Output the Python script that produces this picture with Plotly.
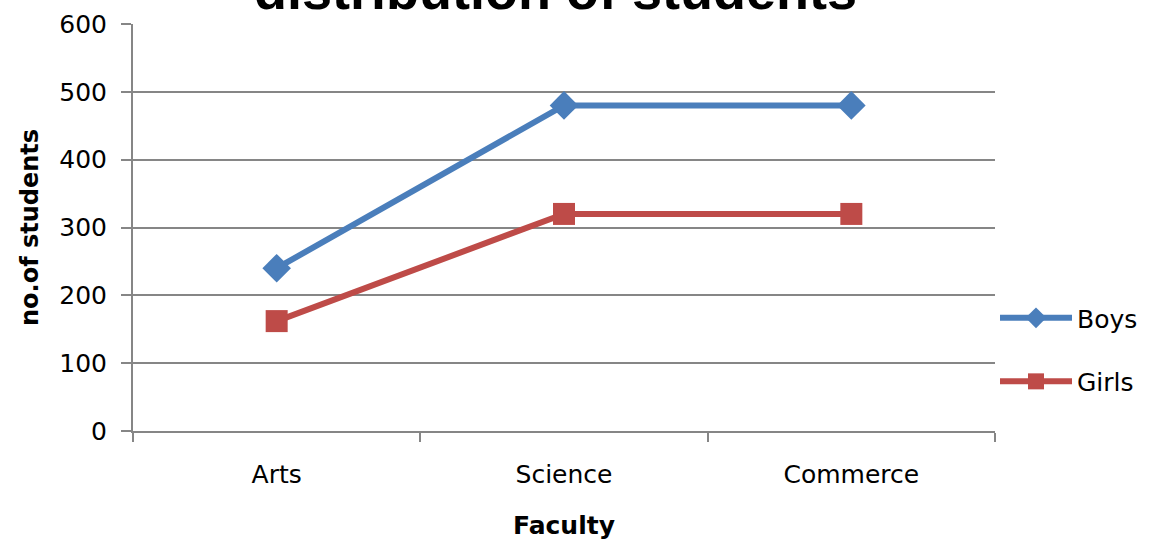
import plotly.graph_objects as go

categories = ["Arts", "Science", "Commerce"]
boys = [240, 480, 480]
girls = [162, 320, 320]
y_ticks = [0, 100, 200, 300, 400, 500, 600]

fig = go.Figure()
fig.add_trace(go.Scatter(
    x=categories, y=boys, name="Boys", mode="lines+markers",
    line=dict(color="#4A7EBB", width=6),
    marker=dict(symbol="diamond", size=22, color="#4A7EBB"),
    legendgroup="b",
))
fig.add_trace(go.Scatter(
    x=categories, y=girls, name="Girls", mode="lines+markers",
    line=dict(color="#BE4B48", width=6),
    marker=dict(symbol="square", size=22, color="#BE4B48"),
    legendgroup="g",
))

fig.update_layout(
    width=1152, height=542,
    margin=dict(l=133, r=157, t=24, b=111, autoexpand=False),
    paper_bgcolor="white", plot_bgcolor="white",
    font=dict(family="DejaVu Sans", size=25, color="black"),
    showlegend=True,
    legend=dict(x=1.0, y=0.2, xanchor="left", yanchor="middle",
                font=dict(size=25), itemwidth=72, tracegroupgap=28,
                bgcolor="rgba(0,0,0,0)"),
    annotations=[dict(
        text="<b>distribution of students</b>", xref="paper", yref="paper",
        x=0.49, y=1.004, xanchor="center", yanchor="bottom", showarrow=False,
        font=dict(family="Liberation Sans", size=54, color="black"),
    )],
)
fig.update_xaxes(
    type="category", tickson="boundaries", ticks="outside", ticklen=9,
    tickcolor="#868686", tickwidth=2, showline=True, linecolor="#868686",
    linewidth=2, showgrid=False, range=[-0.5, 2.5],
    tickfont=dict(size=25),
    title=dict(text="<b>Faculty</b>", font=dict(size=25), standoff=28),
    ticklabelstandoff=20,
)
fig.update_yaxes(
    range=[0, 600], tickvals=y_ticks, ticks="outside", ticklen=10,
    tickcolor="#868686", tickwidth=2, showline=True, linecolor="#868686",
    linewidth=2, showgrid=True, gridcolor="#868686", gridwidth=2,
    zeroline=False, tickfont=dict(size=25), ticklabelstandoff=9,
    title=dict(text="<b>no.of students</b>", font=dict(size=24), standoff=14),
)

fig.write_html("out.html")
